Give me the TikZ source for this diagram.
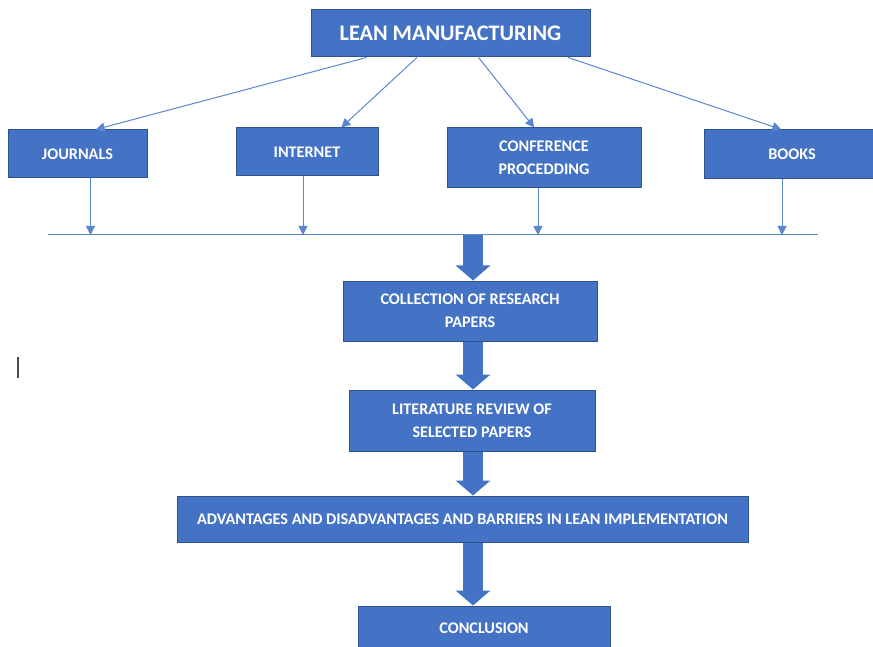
\documentclass[tikz,border=0pt]{standalone}
\usepackage{fontspec}
\setmainfont{Carlito}
\usetikzlibrary{
    arrows.meta,
    calc
}

\definecolor{boxblue}{HTML}{4472C4}
\definecolor{boxedge}{HTML}{2F528F}
\definecolor{lineblue}{HTML}{5B87CF}

\tikzset{
    box/.style={draw=boxedge, fill=boxblue, line width=1pt, text=white,
        font=\bfseries\fontsize{16.2}{23}\selectfont, align=center, inner sep=0pt},
    feed/.style={lineblue, line width=1pt, -{Triangle[length=9pt,width=9pt]}},
    flow/.style={boxblue, line width=20pt, -{Triangle[length=15pt,width=34pt]}}
}

\begin{document}
\begin{tikzpicture}[x=1pt,y=-1pt]

\clip (0,0) rectangle (873,647);
\fill[white] (0,0) rectangle (873,647);

% Top node
\node[box, minimum width=279pt, minimum height=47pt,
    font=\bfseries\fontsize{22.2}{26}\selectfont] (lean) at (450.5,33.5) {LEAN MANUFACTURING};

% Sources
\node[box, minimum width=139pt, minimum height=48pt] (journals) at (77.5,154) {JOURNALS};
\node[box, minimum width=142pt, minimum height=48pt] (internet) at (307,152) {INTERNET};
\node[box, minimum width=194pt, minimum height=60pt] (conf) at (544,158) {CONFERENCE\\PROCEDDING};
\node[box, minimum width=176pt, minimum height=49pt] (books) at (792,154.5) {BOOKS};

% Steps
\node[box, minimum width=254pt, minimum height=60pt] (collect) at (470,311) {COLLECTION OF RESEARCH\\PAPERS};
\node[box, minimum width=246pt, minimum height=61pt] (review) at (472,420.5) {LITERATURE REVIEW OF\\SELECTED PAPERS};
\node[box, minimum width=571pt, minimum height=46pt] (issues) at (462.5,519) {ADVANTAGES AND DISADVANTAGES AND BARRIERS IN LEAN IMPLEMENTATION};
\node[box, minimum width=252pt, minimum height=44pt] (concl) at (484,628) {CONCLUSION};

% Collecting line
\coordinate (busL) at (48,235);
\coordinate (busR) at (818,235);
\draw[lineblue, line width=1pt] (busL) -- (busR);

% Lean -> sources
\draw[feed] ($(lean.south west)!0.2!(lean.south east)$) -- ($(journals.north west)!0.63!(journals.north east)$);
\draw[feed] ($(lean.south west)!0.38!(lean.south east)$) -- ($(internet.north west)!0.74!(internet.north east)$);
\draw[feed] ($(lean.south west)!0.6!(lean.south east)$) -- ($(conf.north west)!0.45!(conf.north east)$);
\draw[feed] ($(lean.south west)!0.92!(lean.south east)$) -- ($(books.north west)!0.44!(books.north east)$);

% Sources -> line
\draw[feed] ([xshift=13pt]journals.south) -- ([xshift=13pt]journals.south |- busL);
\draw[feed] ([xshift=-4pt]internet.south) -- ([xshift=-4pt]internet.south |- busL);
\draw[feed] ([xshift=-6pt]conf.south) -- ([xshift=-6pt]conf.south |- busL);
\draw[feed] ([xshift=-10pt]books.south) -- ([xshift=-10pt]books.south |- busL);

% Block arrows down the middle
\coordinate (spine) at (473,0);
\draw[flow] (busL -| spine) -- (collect.north -| spine);
\draw[flow] (collect.south -| spine) -- (review.north -| spine);
\draw[flow] (review.south -| spine) -- (issues.north -| spine);
\draw[flow] (issues.south -| spine) -- (concl.north -| spine);

% Cursor mark
\draw[black!70, line width=1.5pt] (18,357) -- (18,378);

\end{tikzpicture}
\end{document}
